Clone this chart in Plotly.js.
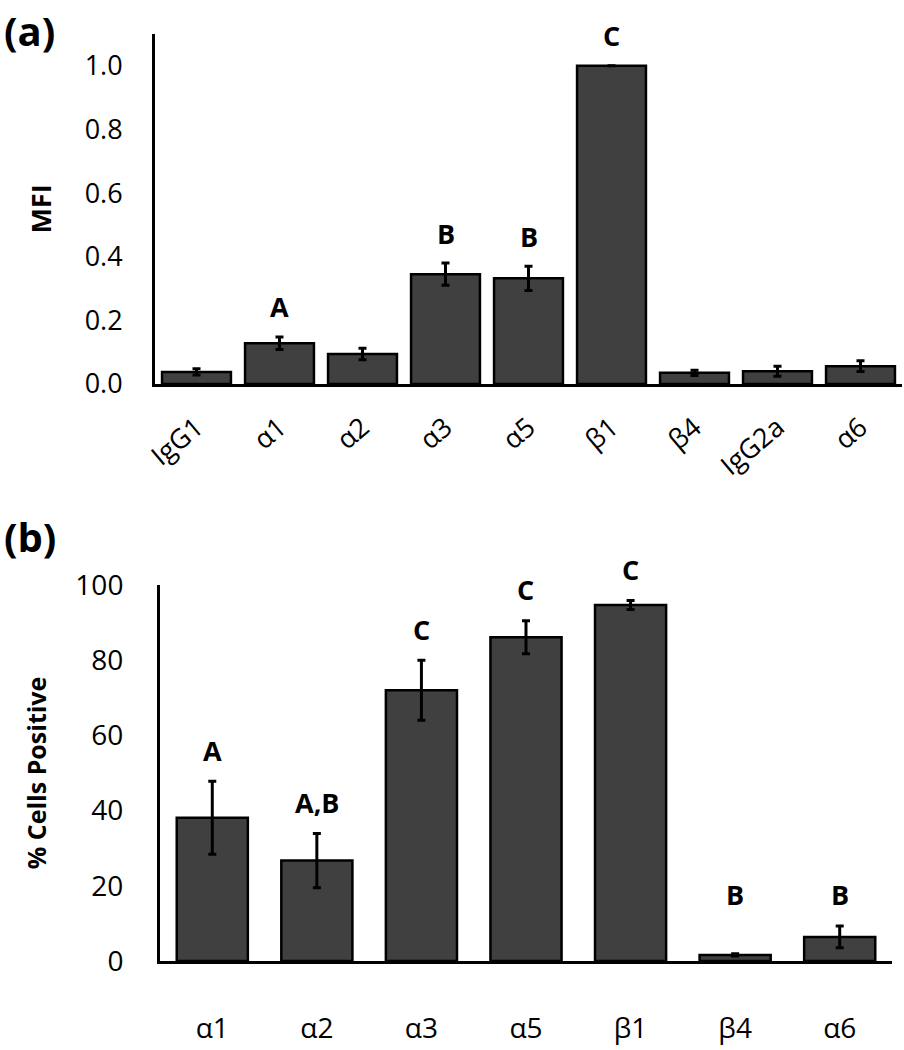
<!DOCTYPE html>
<html>
<head>
<meta charset="utf-8">
<script src="https://cdn.plot.ly/plotly-3.0.1.min.js"></script>
<style>html,body{margin:0;padding:0;background:#fff;}#chart{width:904px;height:1050px;}</style>
</head>
<body>
<div id="chart"></div>
<script>
// Panel (a): MFI
const catsA = ["IgG1", "α1", "α2", "α3", "α5", "β1", "β4", "IgG2a", "α6"];
const mfi = [0.038, 0.128, 0.094, 0.345, 0.332, 1.0, 0.035, 0.040, 0.056];
const mfiErr = [0.010, 0.020, 0.018, 0.035, 0.038, 0.000, 0.008, 0.016, 0.017];
const lettersA = ["", "A", "", "B", "B", "C", "", "", ""];

// Panel (b): % Cells Positive
const catsB = ["α1", "α2", "α3", "α5", "β1", "β4", "α6"];
const pct = [38.1, 26.7, 72.0, 86.1, 94.7, 1.6, 6.4];
const pctErr = [9.7, 7.2, 8.0, 4.4, 1.2, 0.3, 2.9];
const lettersB = ["A", "A,B", "C", "C", "C", "B", "B"];

const FONT = "Open Sans, Lato, DejaVu Sans, sans-serif";
const barFill = "#404040";

const traceA = {
  type: "bar", x: catsA, y: mfi, xaxis: "x", yaxis: "y",
  width: 0.83,
  marker: {color: barFill, line: {color: "#000", width: 2.5}},
  error_y: {type: "data", array: mfiErr, visible: true, color: "#000", thickness: 3, width: 4},
  hoverinfo: "x+y", showlegend: false
};
const traceB = {
  type: "bar", x: catsB, y: pct, xaxis: "x2", yaxis: "y2",
  width: 0.68,
  marker: {color: barFill, line: {color: "#000", width: 2.5}},
  error_y: {type: "data", array: pctErr, visible: true, color: "#000", thickness: 3, width: 4},
  hoverinfo: "x+y", showlegend: false
};

const annotations = [];
catsA.forEach((c, i) => {
  if (!lettersA[i]) return;
  annotations.push({xref: "x", yref: "y", x: c, y: mfi[i] + mfiErr[i], text: "<b>" + lettersA[i] + "</b>",
    showarrow: false, yanchor: "middle", yshift: 30, font: {family: FONT, size: 27, color: "#000"}});
});
// β4 letter is aligned with α6 letter
const topsB = pct.map((v, i) => v + pctErr[i]);
const alignB = [null, null, null, null, null, 6, null];
catsB.forEach((c, i) => {
  const base = alignB[i] !== null ? topsB[alignB[i]] : topsB[i];
  annotations.push({xref: "x2", yref: "y2", x: c, y: base, text: "<b>" + lettersB[i] + "</b>",
    showarrow: false, yanchor: "middle", yshift: 31, font: {family: FONT, size: 27, color: "#000"}});
});
annotations.push({xref: "paper", yref: "paper", x: -153/747, y: 0.971, xanchor: "left", yanchor: "middle",
  text: "<b>(a)</b>", showarrow: false, font: {family: FONT, size: 40, color: "#000"}});
annotations.push({xref: "paper", yref: "paper", x: -153/747, y: 0.4886, xanchor: "left", yanchor: "middle",
  text: "<b>(b)</b>", showarrow: false, font: {family: FONT, size: 40, color: "#000"}});

const axBase = {showline: true, linecolor: "#000", linewidth: 3, showgrid: false, zeroline: false, ticks: "", fixedrange: true};

const layout = {
  width: 904, height: 1050,
  margin: {l: 155, r: 2, t: 0, b: 0},
  paper_bgcolor: "#fff", plot_bgcolor: "#fff",
  font: {family: FONT, color: "#000"},
  showlegend: false,
  xaxis: Object.assign({}, axBase, {
    domain: [0, 1], anchor: "y", range: [-0.5, 8.5],
    tickangle: -40, ticklabelstandoff: 14, tickfont: {family: FONT, size: 27, color: "#000"}
  }),
  yaxis: Object.assign({}, axBase, {
    domain: [0.6343, 0.9676], anchor: "x", range: [0, 1.1],
    tickvals: [0, 0.2, 0.4, 0.6, 0.8, 1.0], tickformat: ".1f",
    ticklabelstandoff: 24, tickfont: {family: FONT, size: 27, color: "#000"},
    title: {text: "<b>MFI</b>", standoff: 26, font: {family: FONT, size: 27, color: "#000"}}
  }),
  xaxis2: Object.assign({}, axBase, {
    domain: [0.0067, 0.9866], anchor: "y2", range: [-0.5, 6.5],
    ticklabelstandoff: 40, tickfont: {family: FONT, size: 28, color: "#000"}
  }),
  yaxis2: Object.assign({}, axBase, {
    domain: [0.0848, 0.4429], anchor: "x2", range: [0, 100],
    tickvals: [0, 20, 40, 60, 80, 100],
    ticklabelstandoff: 28, tickfont: {family: FONT, size: 28, color: "#000"},
    title: {text: "<b>% Cells Positive</b>", standoff: 22, font: {family: FONT, size: 25, color: "#000"}}
  }),
  annotations: annotations
};

Plotly.newPlot("chart", [traceA, traceB], layout, {displayModeBar: false, staticPlot: false});
</script>
</body>
</html>
